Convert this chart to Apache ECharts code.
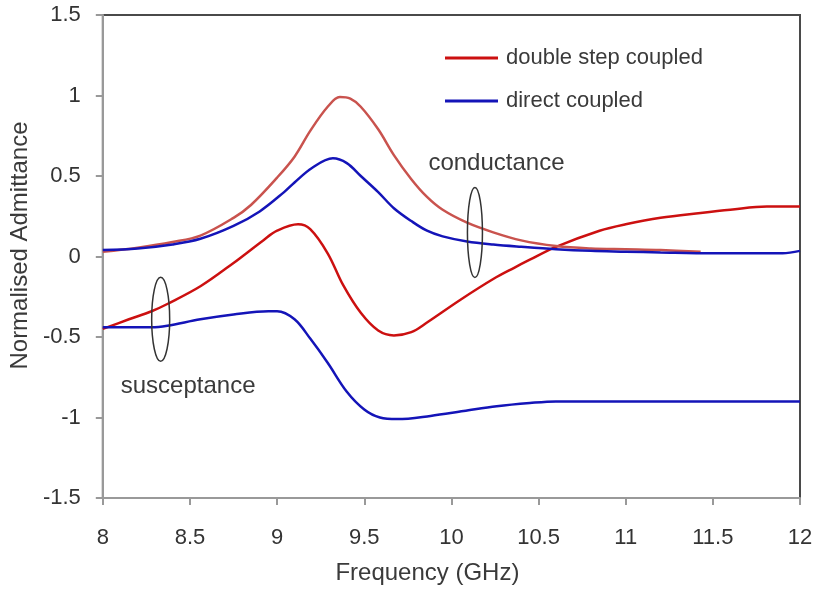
<!DOCTYPE html>
<html>
<head>
<meta charset="utf-8">
<script src="https://cdn.jsdelivr.net/npm/echarts@6/dist/echarts.min.js"></script>
<style>
html,body{margin:0;padding:0;background:#fff;}
#chart{width:817px;height:590px;}
</style>
</head>
<body>
<div id="chart"></div>
<script>
// ---- data ----
const xTicks = [8, 8.5, 9, 9.5, 10, 10.5, 11, 11.5, 12];
const yTicks = [-1.5, -1, -0.5, 0, 0.5, 1, 1.5];

const legendNames = ['double step coupled', 'direct coupled'];

// double step coupled – susceptance
const dsSuscFreq = [8.0, 8.15, 8.28, 8.37, 8.56, 8.75, 8.92, 9.0, 9.12, 9.19, 9.29, 9.38, 9.48, 9.58, 9.67, 9.77, 9.86, 10.05, 10.24, 10.36, 10.45, 10.6, 10.85, 11.0, 11.2, 11.43, 11.6, 11.81, 12.0];
const dsSuscVals = [-0.45, -0.39, -0.34, -0.295, -0.185, -0.04, 0.10, 0.16, 0.2, 0.17, 0.02, -0.18, -0.35, -0.46, -0.49, -0.47, -0.41, -0.27, -0.14, -0.07, -0.02, 0.06, 0.16, 0.2, 0.24, 0.27, 0.29, 0.31, 0.31];

// double step coupled – conductance
const dsCondFreq = [8.0, 8.2, 8.4, 8.56, 8.75, 8.85, 9.0, 9.1, 9.19, 9.29, 9.36, 9.42, 9.48, 9.58, 9.67, 9.77, 9.86, 9.95, 10.09, 10.24, 10.4, 10.6, 10.8, 11.0, 11.2, 11.43];
const dsCondVals = [0.03, 0.055, 0.09, 0.13, 0.24, 0.32, 0.49, 0.62, 0.78, 0.93, 0.99, 0.98, 0.93, 0.79, 0.63, 0.48, 0.37, 0.29, 0.21, 0.15, 0.10, 0.065, 0.05, 0.045, 0.04, 0.03];

// direct coupled – conductance
const dcCondFreq = [8.0, 8.2, 8.4, 8.56, 8.75, 8.9, 9.04, 9.1, 9.2, 9.32, 9.4, 9.48, 9.58, 9.67, 9.77, 9.86, 9.95, 10.09, 10.24, 10.4, 10.6, 10.8, 11.0, 11.2, 11.5, 11.9, 12.0];
const dcCondVals = [0.04, 0.05, 0.075, 0.11, 0.19, 0.28, 0.40, 0.46, 0.55, 0.61, 0.58, 0.50, 0.40, 0.30, 0.22, 0.16, 0.125, 0.093, 0.074, 0.06, 0.045, 0.035, 0.03, 0.025, 0.02, 0.02, 0.035];

// direct coupled – susceptance
const dcSuscFreq = [8.0, 8.28, 8.37, 8.56, 8.75, 8.95, 9.0, 9.1, 9.19, 9.29, 9.40, 9.50, 9.59, 9.69, 9.88, 10.07, 10.26, 10.45, 10.6, 11.0, 12.0];
const dcSuscVals = [-0.44, -0.44, -0.43, -0.39, -0.36, -0.34, -0.34, -0.39, -0.51, -0.66, -0.84, -0.95, -1.0, -1.01, -0.99, -0.96, -0.93, -0.91, -0.9, -0.9, -0.9];

function pairs(xs, ys) { return xs.map((x, i) => [x, ys[i]]); }

const FONT = '"Liberation Sans", Arial, sans-serif';
const TXT = '#3a3a3a';

const chart = echarts.init(document.getElementById('chart'), null, {renderer: 'canvas'});

function lineSeries(name, xs, ys, color) {
  return {name: name, type: 'line', data: pairs(xs, ys), smooth: 0.35,
    showSymbol: false, lineStyle: {color: color, width: 2.5}, itemStyle: {color: color}};
}

const option = {
  animation: false,
  backgroundColor: '#fff',
  grid: {
    left: 102, right: 17, top: 15, bottom: 90,
    show: true, borderColor: '#4a4a4a', borderWidth: 2, backgroundColor: 'transparent'
  },
  legend: {
    data: legendNames,
    orient: 'vertical',
    left: 440, top: 42,
    icon: 'rect',
    itemWidth: 53, itemHeight: 3,
    itemGap: 21,
    textStyle: {fontFamily: FONT, fontSize: 22, color: TXT, padding: [0, 0, 0, 3]}
  },
  xAxis: {
    type: 'value', min: 8, max: 12, interval: 0.5,
    name: 'Frequency (GHz)', nameLocation: 'middle', nameGap: 63,
    nameTextStyle: {fontFamily: FONT, fontSize: 24, color: TXT, padding: [0, 48, 0, 0]},
    axisLine: {show: true, onZero: false, lineStyle: {color: '#999', width: 2}},
    axisTick: {show: true, length: 7, inside: false, lineStyle: {color: '#999', width: 2}},
    axisLabel: {fontFamily: FONT, fontSize: 22, color: '#333', margin: 29,
      formatter: v => xTicks.includes(v) ? String(v) : ''},
    splitLine: {show: false}
  },
  yAxis: {
    type: 'value', min: -1.5, max: 1.5, interval: 0.5,
    name: 'Normalised Admittance', nameLocation: 'middle', nameGap: 68,
    nameTextStyle: {fontFamily: FONT, fontSize: 24, color: TXT, padding: [0, 0, 0, 22]},
    axisLine: {show: true, onZero: false, lineStyle: {color: '#999', width: 2}},
    axisTick: {show: true, length: 7, lineStyle: {color: '#999', width: 2}},
    axisLabel: {fontFamily: FONT, fontSize: 22, color: '#333', margin: 22,
      formatter: v => yTicks.includes(v) ? String(v) : ''},
    splitLine: {show: false}
  },
  series: [
    lineSeries(legendNames[0], dsSuscFreq, dsSuscVals, '#cc1010'),
    lineSeries(legendNames[0], dsCondFreq, dsCondVals, '#c9534e'),
    lineSeries(legendNames[1], dcCondFreq, dcCondVals, '#1414b8'),
    lineSeries(legendNames[1], dcSuscFreq, dcSuscVals, '#1414b8')
  ]
};
chart.setOption(option);

// annotations placed in data coordinates
function px(x, y) { return chart.convertToPixel({gridIndex: 0}, [x, y]); }
const e1 = px(8.332, -0.39);
const e2 = px(10.135, 0.149);
const t1 = px(8.103, -0.805);
const t2 = px(9.868, 0.58);
chart.setOption({
  graphic: [
    {type: 'ellipse', shape: {cx: e1[0], cy: e1[1], rx: 9, ry: 42},
     style: {fill: 'none', stroke: '#333', lineWidth: 1.5}, z: 10},
    {type: 'ellipse', shape: {cx: e2[0], cy: e2[1], rx: 7.5, ry: 45},
     style: {fill: 'none', stroke: '#333', lineWidth: 1.5}, z: 10},
    {type: 'text', x: t1[0], y: t1[1], z: 10,
     style: {text: 'susceptance', font: '24px ' + FONT, fill: TXT, align: 'left', verticalAlign: 'middle'}},
    {type: 'text', x: t2[0], y: t2[1], z: 10,
     style: {text: 'conductance', font: '24px ' + FONT, fill: TXT, align: 'left', verticalAlign: 'middle'}}
  ]
});
</script>
</body>
</html>
